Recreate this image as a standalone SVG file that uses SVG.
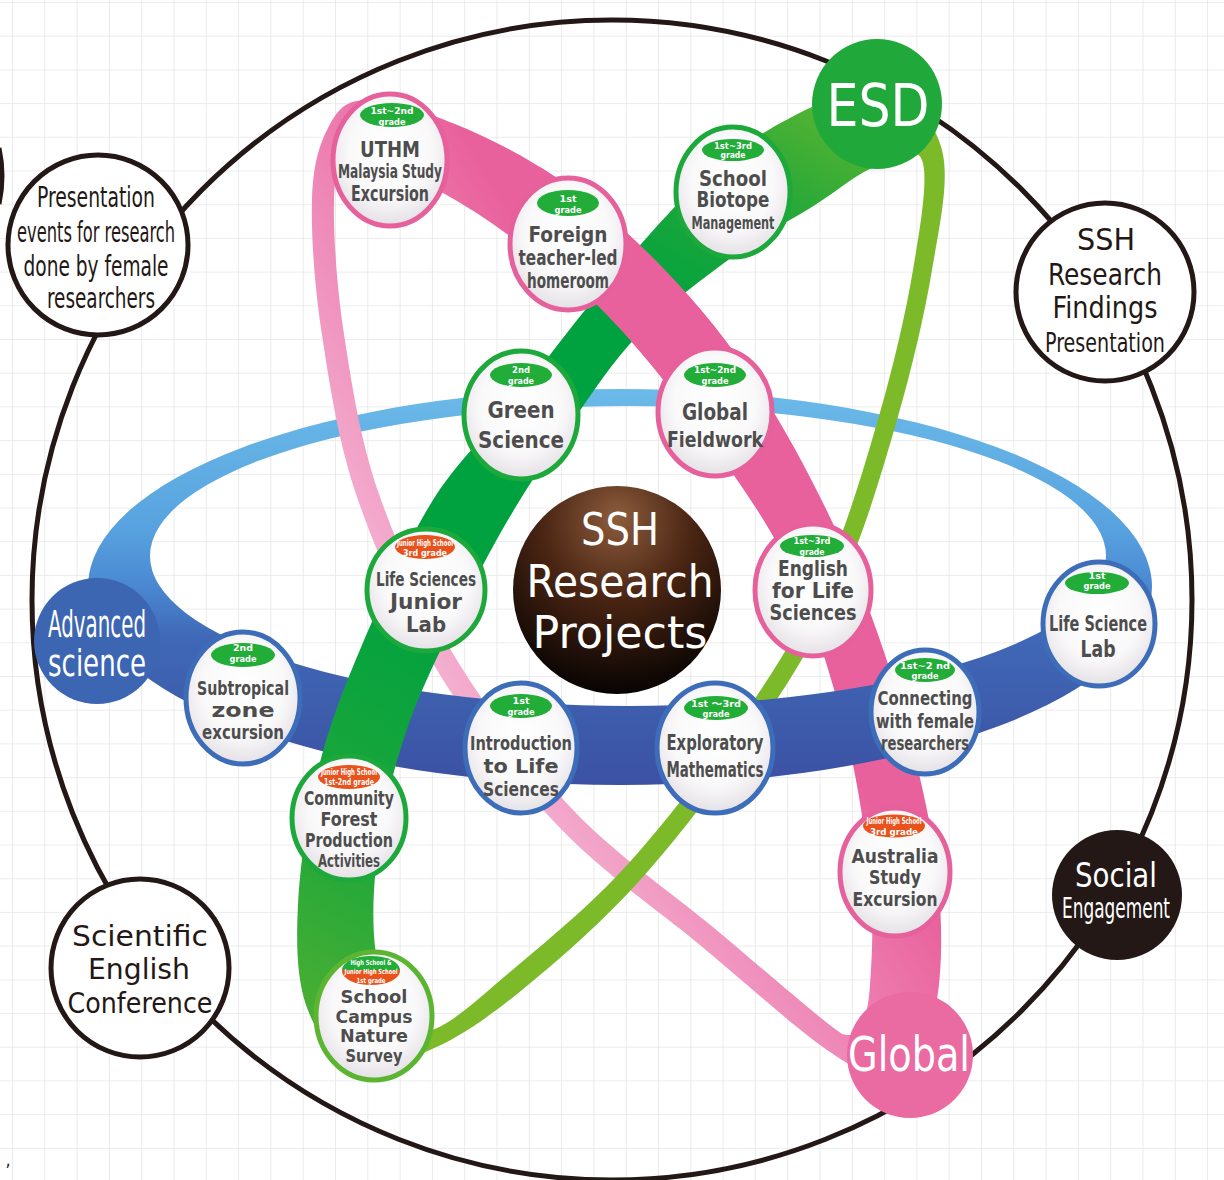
<svg xmlns="http://www.w3.org/2000/svg" width="1224" height="1180" viewBox="0 0 1224 1180">
<defs>
<pattern id="grid" x="12" y="2" width="32.3" height="33.7" patternUnits="userSpaceOnUse">
<path d="M0,0 H32.3 M0,0 V33.7" fill="none" stroke="#e6e6e6" stroke-width="1.6"/>
</pattern>
<linearGradient id="gBlue" gradientUnits="userSpaceOnUse" x1="0" y1="388" x2="0" y2="785">
<stop offset="0" stop-color="#6bbae9"/><stop offset="0.35" stop-color="#58a3df"/><stop offset="0.5" stop-color="#4a88d1"/><stop offset="0.63" stop-color="#3f68b6"/><stop offset="1" stop-color="#3c51a3"/>
</linearGradient>
<linearGradient id="gPink" gradientUnits="userSpaceOnUse" x1="437" y1="705" x2="710" y2="538">
<stop offset="0" stop-color="#f5b4d2"/><stop offset="0.35" stop-color="#f096c0"/><stop offset="1" stop-color="#e9619c"/>
</linearGradient>
<linearGradient id="gGreen" gradientUnits="userSpaceOnUse" x1="880" y1="100" x2="340" y2="1050">
<stop offset="0" stop-color="#62b72f"/><stop offset="0.13" stop-color="#25a839"/><stop offset="0.27" stop-color="#00a23f"/><stop offset="0.6" stop-color="#00a13f"/><stop offset="0.82" stop-color="#1da73a"/><stop offset="1" stop-color="#4daf33"/>
</linearGradient>
<radialGradient id="gNode" cx="50%" cy="42%" r="60%">
<stop offset="0" stop-color="#ffffff"/><stop offset="0.6" stop-color="#faf9fa"/><stop offset="1" stop-color="#e3dfe5"/>
</radialGradient>
<radialGradient id="gCore" cx="50%" cy="22%" r="80%" fx="50%" fy="15%">
<stop offset="0" stop-color="#8d5d3d"/><stop offset="0.45" stop-color="#4a2513"/><stop offset="1" stop-color="#050202"/>
</radialGradient>
<clipPath id="cTop"><rect x="0" y="0" width="1224" height="580"/></clipPath>
<clipPath id="cBot"><rect x="0" y="580" width="1224" height="600"/></clipPath>
<clipPath id="cLeft"><polygon points="967,0 335,1180 0,1180 0,0"/></clipPath>
<clipPath id="cRight"><polygon points="967,0 1224,0 1224,1180 335,1180"/></clipPath>
<clipPath id="cCross"><rect x="540" y="150" width="220" height="250"/></clipPath>
<path id="blueRing" fill-rule="evenodd" d="M88,587 A532,198 0 1,0 1152,587 A532,198 0 1,0 88,587 Z M150,556 A478,150 0 1,0 1106,556 A478,150 0 1,0 150,556 Z"/>
<path id="pinkRing" fill-rule="evenodd" d="M365,100 C386.2,99.3 422.5,110.7 455,124 C487.5,137.3 525,155.7 560,180 C595,204.3 631.7,235 665,270 C698.3,305 730,343.3 760,390 C790,436.7 820.8,495 845,550 C869.2,605 889.5,665 905,720 C920.5,775 933,831.7 938,880 C943,928.3 942.2,977.5 935,1010 C927.8,1042.5 912.5,1068 895,1075 C877.5,1082 862.5,1073.7 830,1052 C797.5,1030.3 745,982.3 700,945 C655,907.7 603.3,873 560,828 C516.7,783 473.7,729.7 440,675 C406.3,620.3 377.7,556.7 358,500 C338.3,443.3 329.7,385 322,335 C314.3,285 311,234.5 312,200 C313,165.5 319.2,144.7 328,128 C336.8,111.3 343.8,100.7 365,100 Z M385,165 C402,172.8 428.3,184.5 450,197 C471.7,209.5 489.2,220.7 515,240 C540.8,259.3 574.2,281.7 605,313 C635.8,344.3 669.2,385.5 700,428 C730.8,470.5 765.8,517.7 790,568 C814.2,618.3 831.7,678 845,730 C858.3,782 865.8,837.5 870,880 C874.2,922.5 871.7,960.3 870,985 C868.3,1009.7 864.7,1019.8 860,1028 C855,1036 850,1036 842,1034 C817.7,1017.3 758.5,965 714,928 C669.5,891 617.7,856.3 575,812 C532.3,767.7 490.7,715 458,662 C425.3,609 398,548.7 379,494 C360,439.3 351.5,382.7 344,334 C336.5,285.3 333.3,232.7 334,202 C334.7,171.3 339.5,156.2 348,150 C356.5,143.8 368,157.2 385,165 Z"/>
<path id="greenRing" fill-rule="evenodd" d="M885,88 C910.3,93.3 934.2,119.7 942,150 C949.8,180.3 939.5,225 932,270 C924.5,315 912,368 897,420 C882,472 864.5,531.7 842,582 C819.5,632.3 795.3,672.7 762,722 C728.7,771.3 682,833.3 642,878 C602,922.7 557.3,961.3 522,990 C486.7,1018.7 458.3,1038 430,1050 C401.7,1062 372.7,1069.5 352,1062 C331.3,1054.5 315,1031.2 306,1005 C297,978.8 296,944.2 298,905 C300,865.8 307.3,813.3 318,770 C328.7,726.7 342.8,690 362,645 C381.2,600 407.5,540.8 433,500 C458.5,459.2 487.2,434.7 515,400 C542.8,365.3 569.2,328.3 600,292 C630.8,255.7 668.3,211 700,182 C731.7,153 759.2,133.7 790,118 C820.8,102.3 859.7,82.7 885,88 Z M872,168 C889.8,160.5 915.2,143 922,160 C928.8,177 920.2,227.3 913,270 C905.8,312.7 893.7,365.2 879,416 C864.3,466.8 847.2,525.7 825,575 C802.8,624.3 778.8,663.8 746,712 C713.2,760.2 667.3,820.7 628,864 C588.7,907.3 542.7,944.3 510,972 C477.3,999.7 451.7,1023.7 432,1030 C412.3,1036.3 401.7,1025.8 392,1010 C382.3,994.2 376,964.2 374,935 C372,905.8 374.8,868.3 380,835 C385.2,801.7 394.5,766.7 405,735 C415.5,703.3 426.3,680 443,645 C459.7,610 483.8,561.7 505,525 C526.2,488.3 547.5,457 570,425 C592.5,393 612.5,361.3 640,333 C667.5,304.7 705.8,276.3 735,255 C764.2,233.7 792.2,219.5 815,205 C837.8,190.5 854.2,175.5 872,168 Z"/>
</defs>
<style>
.nd{fill:url(#gNode);stroke-width:5}
.pk{stroke:#e6609b}.gr{stroke:#1ca83b}.bl{stroke:#3d6db8}.lm{stroke:#5cb531}
.pg{fill:#22ac38}.po{fill:#e8521d}
.t{font-family:"DejaVu Sans Condensed","DejaVu Sans",sans-serif;font-weight:bold;fill:#4d4d4d;text-anchor:middle}
.p{font-family:"DejaVu Sans Condensed","DejaVu Sans","Noto Sans CJK JP",sans-serif;font-weight:bold;fill:#ffffff;text-anchor:middle}
.lb{font-family:"DejaVu Sans Condensed","DejaVu Sans",sans-serif;fill:#231815;text-anchor:middle}
.wt{font-family:"DejaVu Sans",sans-serif;fill:#ffffff;text-anchor:middle}
.wc{font-family:"DejaVu Sans Condensed","DejaVu Sans",sans-serif;fill:#ffffff;text-anchor:middle}
.ring{fill:none;stroke:#231815;stroke-width:5}
.lc{fill:#ffffff;stroke:#231815;stroke-width:5}
</style>
<rect width="1224" height="1180" fill="#ffffff"/>
<rect width="1224" height="1180" fill="url(#grid)"/>

<g id="connectors">
<circle class="ring" cx="612" cy="600" r="580"/>
<path class="ring" d="M-1,148 Q5,176 -1,204"/>
</g>

<g id="orbits">
<use href="#blueRing" fill="url(#gBlue)" clip-path="url(#cTop)"/>
<use href="#pinkRing" fill="url(#gPink)"/>
<use href="#greenRing" fill="#7cba2a" clip-path="url(#cRight)"/>
<use href="#blueRing" fill="url(#gBlue)" clip-path="url(#cBot)"/>
<use href="#greenRing" fill="url(#gGreen)" clip-path="url(#cLeft)"/>
<use href="#pinkRing" fill="url(#gPink)" clip-path="url(#cCross)"/>
</g>

<g id="core">
<circle cx="617" cy="590" r="104" fill="url(#gCore)"/>
<text class="wt" x="620" y="545" font-size="45" textLength="78" lengthAdjust="spacingAndGlyphs">SSH</text>
<text class="wt" x="620" y="597" font-size="45" textLength="187" lengthAdjust="spacingAndGlyphs">Research</text>
<text class="wt" x="620" y="648" font-size="45" textLength="175" lengthAdjust="spacingAndGlyphs">Projects</text>
</g>

<g id="n-uthm">
<ellipse class="nd pk" cx="390" cy="160" rx="57" ry="66"/>
<ellipse class="pg" cx="392" cy="115" rx="32" ry="12"/>
<text class="p" x="392" y="114" font-size="9.5" textLength="43" lengthAdjust="spacingAndGlyphs">1st~2nd</text>
<text class="p" x="392" y="125" font-size="9.5" textLength="27" lengthAdjust="spacingAndGlyphs">grade</text>
<text class="t" x="390" y="157" font-size="22" textLength="60" lengthAdjust="spacingAndGlyphs">UTHM</text>
<text class="t" x="390" y="178" font-size="19" textLength="104" lengthAdjust="spacingAndGlyphs">Malaysia Study</text>
<text class="t" x="390" y="201" font-size="21" textLength="78" lengthAdjust="spacingAndGlyphs">Excursion</text>
</g>

<g id="n-foreign">
<ellipse class="nd pk" cx="568" cy="244" rx="58" ry="66"/>
<ellipse class="pg" cx="568" cy="203" rx="31" ry="13"/>
<text class="p" x="568" y="201.5" font-size="9.5" textLength="17" lengthAdjust="spacingAndGlyphs">1st</text>
<text class="p" x="568" y="212.5" font-size="9.5" textLength="27" lengthAdjust="spacingAndGlyphs">grade</text>
<text class="t" x="568" y="242" font-size="22" textLength="79" lengthAdjust="spacingAndGlyphs">Foreign</text>
<text class="t" x="568" y="265" font-size="21" textLength="99" lengthAdjust="spacingAndGlyphs">teacher-led</text>
<text class="t" x="568" y="288" font-size="21" textLength="82" lengthAdjust="spacingAndGlyphs">homeroom</text>
</g>

<g id="n-biotope">
<ellipse class="nd gr" cx="733" cy="192" rx="57" ry="65"/>
<ellipse class="pg" cx="733" cy="150" rx="31" ry="11"/>
<text class="p" x="733" y="148.5" font-size="9" textLength="38" lengthAdjust="spacingAndGlyphs">1st~3rd</text>
<text class="p" x="733" y="158" font-size="9" textLength="25" lengthAdjust="spacingAndGlyphs">grade</text>
<text class="t" x="733" y="186" font-size="21" textLength="68" lengthAdjust="spacingAndGlyphs">School</text>
<text class="t" x="733" y="207" font-size="21" textLength="73" lengthAdjust="spacingAndGlyphs">Biotope</text>
<text class="t" x="733" y="229" font-size="17" textLength="83" lengthAdjust="spacingAndGlyphs">Management</text>
</g>

<g id="n-green-science">
<ellipse class="nd gr" cx="521" cy="415" rx="57" ry="64"/>
<ellipse class="pg" cx="521" cy="375" rx="31" ry="12"/>
<text class="p" x="521" y="373" font-size="9.5" textLength="18" lengthAdjust="spacingAndGlyphs">2nd</text>
<text class="p" x="521" y="384" font-size="9.5" textLength="26" lengthAdjust="spacingAndGlyphs">grade</text>
<text class="t" x="521" y="418" font-size="23" textLength="67" lengthAdjust="spacingAndGlyphs">Green</text>
<text class="t" x="521" y="448" font-size="23" textLength="86" lengthAdjust="spacingAndGlyphs">Science</text>
</g>

<g id="n-global-fieldwork">
<ellipse class="nd pk" cx="715" cy="412" rx="57" ry="64"/>
<ellipse class="pg" cx="715" cy="375" rx="31" ry="12"/>
<text class="p" x="715" y="373" font-size="9.5" textLength="42" lengthAdjust="spacingAndGlyphs">1st~2nd</text>
<text class="p" x="715" y="384" font-size="9.5" textLength="27" lengthAdjust="spacingAndGlyphs">grade</text>
<text class="t" x="715" y="420" font-size="23" textLength="66" lengthAdjust="spacingAndGlyphs">Global</text>
<text class="t" x="715" y="447" font-size="22" textLength="96" lengthAdjust="spacingAndGlyphs">Fieldwork</text>
</g>

<g id="n-ls-junior">
<ellipse class="nd gr" cx="426" cy="590" rx="59" ry="61"/>
<ellipse class="po" cx="425" cy="547" rx="30" ry="12"/>
<text class="p" x="425" y="546" font-size="8" textLength="56" lengthAdjust="spacingAndGlyphs">Junior High School</text>
<text class="p" x="425" y="556" font-size="9" textLength="44" lengthAdjust="spacingAndGlyphs">3rd grade</text>
<text class="t" x="426" y="586" font-size="20" textLength="100" lengthAdjust="spacingAndGlyphs">Life Sciences</text>
<text class="t" x="426" y="609" font-size="21" textLength="72" lengthAdjust="spacingAndGlyphs">Junior</text>
<text class="t" x="426" y="632" font-size="21" textLength="40" lengthAdjust="spacingAndGlyphs">Lab</text>
</g>

<g id="n-subtropical">
<ellipse class="nd bl" cx="243" cy="698" rx="57" ry="66"/>
<ellipse class="pg" cx="243" cy="655" rx="32" ry="12"/>
<text class="p" x="243" y="651" font-size="9.5" textLength="20" lengthAdjust="spacingAndGlyphs">2nd</text>
<text class="p" x="243" y="662" font-size="9.5" textLength="27" lengthAdjust="spacingAndGlyphs">grade</text>
<text class="t" x="243" y="695" font-size="19" textLength="92" lengthAdjust="spacingAndGlyphs">Subtropical</text>
<text class="t" x="243" y="717" font-size="20" textLength="63" lengthAdjust="spacingAndGlyphs">zone</text>
<text class="t" x="243" y="739" font-size="19" textLength="82" lengthAdjust="spacingAndGlyphs">excursion</text>
</g>

<g id="n-community">
<ellipse class="nd gr" cx="349" cy="818" rx="57" ry="62"/>
<ellipse class="po" cx="349" cy="777" rx="31" ry="12"/>
<text class="p" x="349" y="775" font-size="8" textLength="56" lengthAdjust="spacingAndGlyphs">Junior High School</text>
<text class="p" x="349" y="785" font-size="8" textLength="50" lengthAdjust="spacingAndGlyphs">1st-2nd grade</text>
<text class="t" x="349" y="805" font-size="19" textLength="90" lengthAdjust="spacingAndGlyphs">Community</text>
<text class="t" x="349" y="826" font-size="19" textLength="57" lengthAdjust="spacingAndGlyphs">Forest</text>
<text class="t" x="349" y="847" font-size="19" textLength="88" lengthAdjust="spacingAndGlyphs">Production</text>
<text class="t" x="349" y="867" font-size="18" textLength="62" lengthAdjust="spacingAndGlyphs">Activities</text>
</g>

<g id="n-campus">
<ellipse class="nd lm" cx="374" cy="1016" rx="58" ry="64"/>
<ellipse class="po" cx="371" cy="971" rx="29" ry="14"/>
<path class="pg" d="M342,970 A29,14 0 0,1 400,970 Z"/>
<text class="p" x="371" y="964.5" font-size="7" textLength="41" lengthAdjust="spacingAndGlyphs">High School &amp;</text>
<text class="p" x="371" y="974" font-size="7" textLength="53" lengthAdjust="spacingAndGlyphs">Junior High School</text>
<text class="p" x="371" y="983" font-size="7" textLength="29" lengthAdjust="spacingAndGlyphs">1st grade</text>
<text class="t" x="374" y="1003" font-size="18" textLength="67" lengthAdjust="spacingAndGlyphs">School</text>
<text class="t" x="374" y="1023" font-size="18" textLength="77" lengthAdjust="spacingAndGlyphs">Campus</text>
<text class="t" x="374" y="1042" font-size="18" textLength="68" lengthAdjust="spacingAndGlyphs">Nature</text>
<text class="t" x="374" y="1062" font-size="18" textLength="57" lengthAdjust="spacingAndGlyphs">Survey</text>
</g>

<g id="n-intro">
<ellipse class="nd bl" cx="521" cy="748" rx="56" ry="65"/>
<ellipse class="pg" cx="521" cy="706" rx="31" ry="12"/>
<text class="p" x="521" y="703.5" font-size="9.5" textLength="17" lengthAdjust="spacingAndGlyphs">1st</text>
<text class="p" x="521" y="714.5" font-size="9.5" textLength="27" lengthAdjust="spacingAndGlyphs">grade</text>
<text class="t" x="521" y="750" font-size="20" textLength="102" lengthAdjust="spacingAndGlyphs">Introduction</text>
<text class="t" x="521" y="773" font-size="20" textLength="75" lengthAdjust="spacingAndGlyphs">to Life</text>
<text class="t" x="521" y="796" font-size="20" textLength="76" lengthAdjust="spacingAndGlyphs">Sciences</text>
</g>

<g id="n-exploratory">
<ellipse class="nd bl" cx="715" cy="748" rx="58" ry="65"/>
<ellipse class="pg" cx="716" cy="708" rx="32" ry="12"/>
<text class="p" x="716" y="706.5" font-size="9.5" textLength="50" lengthAdjust="spacingAndGlyphs">1st ～3rd</text>
<text class="p" x="716" y="717" font-size="9.5" textLength="27" lengthAdjust="spacingAndGlyphs">grade</text>
<text class="t" x="715" y="750" font-size="21" textLength="97" lengthAdjust="spacingAndGlyphs">Exploratory</text>
<text class="t" x="715" y="777" font-size="21" textLength="97" lengthAdjust="spacingAndGlyphs">Mathematics</text>
</g>

<g id="n-connecting">
<ellipse class="nd bl" cx="925" cy="712" rx="54" ry="62"/>
<ellipse class="pg" cx="925" cy="670" rx="30" ry="12"/>
<text class="p" x="925" y="669" font-size="9.5" textLength="50" lengthAdjust="spacingAndGlyphs">1st~2 nd</text>
<text class="p" x="925" y="679" font-size="9.5" textLength="27" lengthAdjust="spacingAndGlyphs">grade</text>
<text class="t" x="925" y="705" font-size="20" textLength="95" lengthAdjust="spacingAndGlyphs">Connecting</text>
<text class="t" x="925" y="728" font-size="20" textLength="98" lengthAdjust="spacingAndGlyphs">with female</text>
<text class="t" x="925" y="750" font-size="19" textLength="88" lengthAdjust="spacingAndGlyphs">researchers</text>
</g>

<g id="n-english">
<ellipse class="nd pk" cx="813" cy="590" rx="58" ry="66"/>
<ellipse class="pg" cx="812" cy="546" rx="32" ry="11"/>
<text class="p" x="812" y="544" font-size="9" textLength="37" lengthAdjust="spacingAndGlyphs">1st~3rd</text>
<text class="p" x="812" y="555" font-size="9" textLength="25" lengthAdjust="spacingAndGlyphs">grade</text>
<text class="t" x="813" y="576" font-size="21" textLength="70" lengthAdjust="spacingAndGlyphs">English</text>
<text class="t" x="813" y="598" font-size="21" textLength="82" lengthAdjust="spacingAndGlyphs">for Life</text>
<text class="t" x="813" y="620" font-size="21" textLength="87" lengthAdjust="spacingAndGlyphs">Sciences</text>
</g>

<g id="n-lifelab">
<ellipse class="nd bl" cx="1099" cy="624" rx="56" ry="62"/>
<ellipse class="pg" cx="1097" cy="583" rx="32" ry="11"/>
<text class="p" x="1097" y="579" font-size="9" textLength="17" lengthAdjust="spacingAndGlyphs">1st</text>
<text class="p" x="1097" y="589" font-size="9" textLength="27" lengthAdjust="spacingAndGlyphs">grade</text>
<text class="t" x="1098" y="631" font-size="21" textLength="98" lengthAdjust="spacingAndGlyphs">Life Science</text>
<text class="t" x="1098" y="657" font-size="23" textLength="35" lengthAdjust="spacingAndGlyphs">Lab</text>
</g>

<g id="n-australia">
<ellipse class="nd pk" cx="895" cy="872" rx="55" ry="64"/>
<ellipse class="po" cx="894" cy="826" rx="31" ry="11.5"/>
<text class="p" x="894" y="824" font-size="8" textLength="55" lengthAdjust="spacingAndGlyphs">Junior High School</text>
<text class="p" x="894" y="835" font-size="9" textLength="48" lengthAdjust="spacingAndGlyphs">3rd grade</text>
<text class="t" x="895" y="863" font-size="20" textLength="87" lengthAdjust="spacingAndGlyphs">Australia</text>
<text class="t" x="895" y="884" font-size="20" textLength="52" lengthAdjust="spacingAndGlyphs">Study</text>
<text class="t" x="895" y="906" font-size="20" textLength="85" lengthAdjust="spacingAndGlyphs">Excursion</text>
</g>

<g id="l-esd">
<circle cx="877" cy="104" r="65" fill="#20a93a"/>
<text class="wt" x="878" y="126" font-size="58" textLength="103" lengthAdjust="spacingAndGlyphs">ESD</text>
</g>

<g id="l-advanced">
<circle cx="97" cy="641" r="63" fill="#3c66b1"/>
<text class="wc" x="97" y="637" font-size="38" textLength="98" lengthAdjust="spacingAndGlyphs">Advanced</text>
<text class="wc" x="97" y="676" font-size="38" textLength="98" lengthAdjust="spacingAndGlyphs">science</text>
</g>

<g id="l-global">
<circle cx="910" cy="1055" r="63" fill="#ea6aa2"/>
<text class="wc" x="909" y="1071" font-size="48" textLength="122" lengthAdjust="spacingAndGlyphs">Global</text>
</g>

<g id="l-social">
<circle cx="1117" cy="895" r="65" fill="#231815"/>
<text class="wc" x="1116" y="887" font-size="34" textLength="82" lengthAdjust="spacingAndGlyphs">Social</text>
<text class="wc" x="1116" y="918" font-size="28" textLength="108" lengthAdjust="spacingAndGlyphs">Engagement</text>
</g>

<g id="l-presentation">
<circle class="lc" cx="98" cy="245" r="90"/>
<text class="lb" x="96" y="207" font-size="28" textLength="118" lengthAdjust="spacingAndGlyphs">Presentation</text>
<text class="lb" x="96" y="242" font-size="28" textLength="158" lengthAdjust="spacingAndGlyphs">events for research</text>
<text class="lb" x="96" y="276" font-size="28" textLength="145" lengthAdjust="spacingAndGlyphs">done by female</text>
<text class="lb" x="101" y="308" font-size="28" textLength="108" lengthAdjust="spacingAndGlyphs">researchers</text>
</g>

<g id="l-findings">
<circle class="lc" cx="1105" cy="292" r="89"/>
<text class="lb" x="1106" y="250" font-size="30" textLength="58" lengthAdjust="spacingAndGlyphs">SSH</text>
<text class="lb" x="1105" y="285" font-size="30" textLength="114" lengthAdjust="spacingAndGlyphs">Research</text>
<text class="lb" x="1105" y="318" font-size="30" textLength="105" lengthAdjust="spacingAndGlyphs">Findings</text>
<text class="lb" x="1105" y="352" font-size="27" textLength="120" lengthAdjust="spacingAndGlyphs">Presentation</text>
</g>

<g id="l-conference">
<circle class="lc" cx="140" cy="968" r="89"/>
<text class="lb" x="140" y="946" font-size="29" textLength="136" lengthAdjust="spacingAndGlyphs">Scientific</text>
<text class="lb" x="139" y="979" font-size="29" textLength="102" lengthAdjust="spacingAndGlyphs">English</text>
<text class="lb" x="140" y="1013" font-size="29" textLength="145" lengthAdjust="spacingAndGlyphs">Conference</text>
</g>

<text class="lb" x="8" y="1166" font-size="18">,</text>
</svg>
